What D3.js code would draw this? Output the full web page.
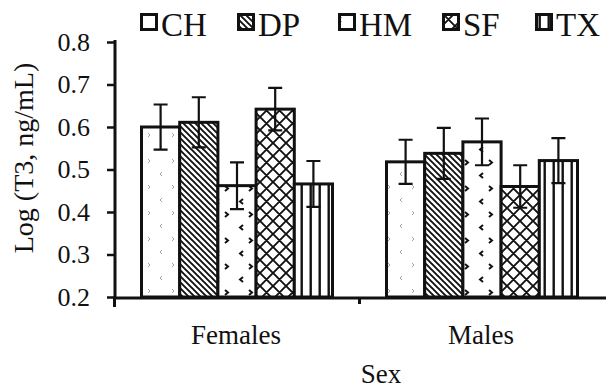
<!DOCTYPE html>
<html><head><meta charset="utf-8">
<script src="https://cdn.jsdelivr.net/npm/d3@7"></script>
<style>body{margin:0;background:#fff}svg{display:block}</style>
</head><body><svg id="c" width="606" height="389" style="font-family:'Liberation Serif','Times New Roman',Times,serif"></svg>
<script>
const categories = ["Females", "Males"];
const series = ["CH", "DP", "HM", "SF", "TX"];
const femaleMeans = [0.600, 0.611, 0.462, 0.642, 0.466];
const femaleErrors = [0.053, 0.059, 0.055, 0.050, 0.054];
const maleMeans = [0.518, 0.538, 0.565, 0.460, 0.521];
const maleErrors = [0.052, 0.060, 0.055, 0.050, 0.053];
const yTicks = [0.2, 0.3, 0.4, 0.5, 0.6, 0.7, 0.8];

const FONT = "'Liberation Serif','Times New Roman',Times,serif";
const data = [];
categories.forEach((c, ci) => series.forEach((s, si) => data.push({
  cat: c, ser: s,
  v: ci === 0 ? femaleMeans[si] : maleMeans[si],
  e: ci === 0 ? femaleErrors[si] : maleErrors[si]
})));

const svg = d3.select("#c");
const defs = svg.append("defs");
const ink = "#111";

function pat(id, w, h) {
  const p = defs.append("pattern").attr("id", id).attr("patternUnits", "userSpaceOnUse")
    .attr("width", w).attr("height", h);
  p.append("rect").attr("width", w).attr("height", h).attr("fill", "#fff");
  return p;
}
let p = pat("pCH", 24, 26);
p.append("path").attr("d", "M4,3 l2,2 l-2,2").attr("fill", "none").attr("stroke", "#999").attr("stroke-width", 0.9);
p.append("path").attr("d", "M18,16 l-2,2 l2,2").attr("fill", "none").attr("stroke", "#999").attr("stroke-width", 0.9);
p = pat("pDP", 6, 6);
p.append("path").attr("d", "M-1,-1 L7,7 M-4,2 L4,10 M2,-4 L10,4").attr("stroke", ink).attr("stroke-width", 1.9);
p = pat("pHM", 24, 26);
p.append("path").attr("d", "M9,4 l3,2.5 l-3,2.5").attr("fill", "none").attr("stroke", ink).attr("stroke-width", 2);
p.append("path").attr("d", "M3,17 l-3,2.5 l3,2.5 M27,17 l-3,2.5 l3,2.5").attr("fill", "none").attr("stroke", ink).attr("stroke-width", 2);
p = pat("pSF", 13, 13);
p.append("path").attr("d", "M0,0 L13,13 M13,0 L0,13 M-1,12 L1,14 M12,-1 L14,1 M-1,1 L1,-1 M12,14 L14,12").attr("stroke", ink).attr("stroke-width", 1.9);
p = pat("pTX", 9, 10);
p.append("rect").attr("x", 3.5).attr("width", 2.4).attr("height", 10).attr("fill", ink);

const fills = {CH: "url(#pCH)", DP: "url(#pDP)", HM: "url(#pHM)", SF: "url(#pSF)", TX: "url(#pTX)"};

const x0 = d3.scaleBand().domain(categories).range([114.5, 604.5]);
const x1 = d3.scaleBand().domain(series).range([27, 218]);
const y = d3.scaleLinear().domain([0.2, 0.8]).range([297, 42]);

svg.append("g").selectAll("rect").data(data).join("rect")
  .attr("x", d => x0(d.cat) + x1(d.ser))
  .attr("y", d => y(d.v))
  .attr("width", x1.bandwidth())
  .attr("height", d => y(0.2) - y(d.v))
  .attr("fill", d => fills[d.ser])
  .attr("stroke", ink).attr("stroke-width", 3);

const eb = svg.append("g").attr("stroke", ink).attr("stroke-width", 2.2).attr("fill", "none");
eb.selectAll("path").data(data).join("path")
  .attr("d", d => {
    const cx = x0(d.cat) + x1(d.ser) + x1.bandwidth() / 2;
    const t = y(d.v + d.e), b = y(d.v - d.e);
    return `M${cx},${t}V${b}M${cx - 7},${t}H${cx + 7}M${cx - 7},${b}H${cx + 7}`;
  });

const yAxis = svg.append("g").attr("transform", "translate(115,0)")
  .call(d3.axisLeft(y).tickValues(yTicks).tickFormat(d3.format(".1f")).tickSize(8).tickPadding(17));
yAxis.attr("font-family", FONT);
yAxis.select(".domain").attr("stroke", ink).attr("stroke-width", 3).attr("d", "M0,40V299");
yAxis.selectAll(".tick line").attr("stroke", ink).attr("stroke-width", 2.5);
yAxis.selectAll(".tick text").attr("font-size", 26).style("font-family", FONT).attr("fill", ink);

const xAxis = svg.append("g").attr("transform", "translate(0,298)")
  .call(d3.axisBottom(x0).tickSize(0).tickFormat(""));
xAxis.select(".domain").attr("stroke", ink).attr("stroke-width", 3).attr("d", "M113,0H606");
xAxis.selectAll(".tick").remove();
xAxis.selectAll("line.sep").data([x0.range()[0], x0("Males")]).join("line")
  .attr("x1", d => d).attr("x2", d => d).attr("y1", 0).attr("y2", (d, i) => i === 0 ? 9 : 6)
  .attr("stroke", ink).attr("stroke-width", 3);

const txt = (sel) => sel.style("font-family", FONT).attr("fill", ink);

svg.append("g").selectAll("text").data(categories).join("text")
  .attr("x", d => x0(d) + x0.bandwidth() / 2 - 1)
  .attr("y", 344).attr("text-anchor", "middle").attr("font-size", 27).text(d => d).call(txt);

svg.append("text").attr("x", 381).attr("y", 383).attr("text-anchor", "middle").attr("font-size", 27).text("Sex").call(txt);
svg.append("text").attr("transform", "translate(33,158) rotate(-90)").attr("text-anchor", "middle")
  .attr("font-size", 28).text("Log (T3, ng/mL)").call(txt);

const legX = [140, 237, 338, 442, 535];
const leg = svg.append("g").selectAll("g").data(series).join("g")
  .attr("transform", (d, i) => `translate(${legX[i]},0)`);
leg.append("rect").attr("x", 1.5).attr("y", 14.5).attr("width", 15).attr("height", 15)
  .attr("fill", d => fills[d]).attr("stroke", ink).attr("stroke-width", 3);
leg.append("text").attr("x", 21).attr("y", 36).attr("font-size", 33).text(d => d).call(txt);
</script></body></html>
